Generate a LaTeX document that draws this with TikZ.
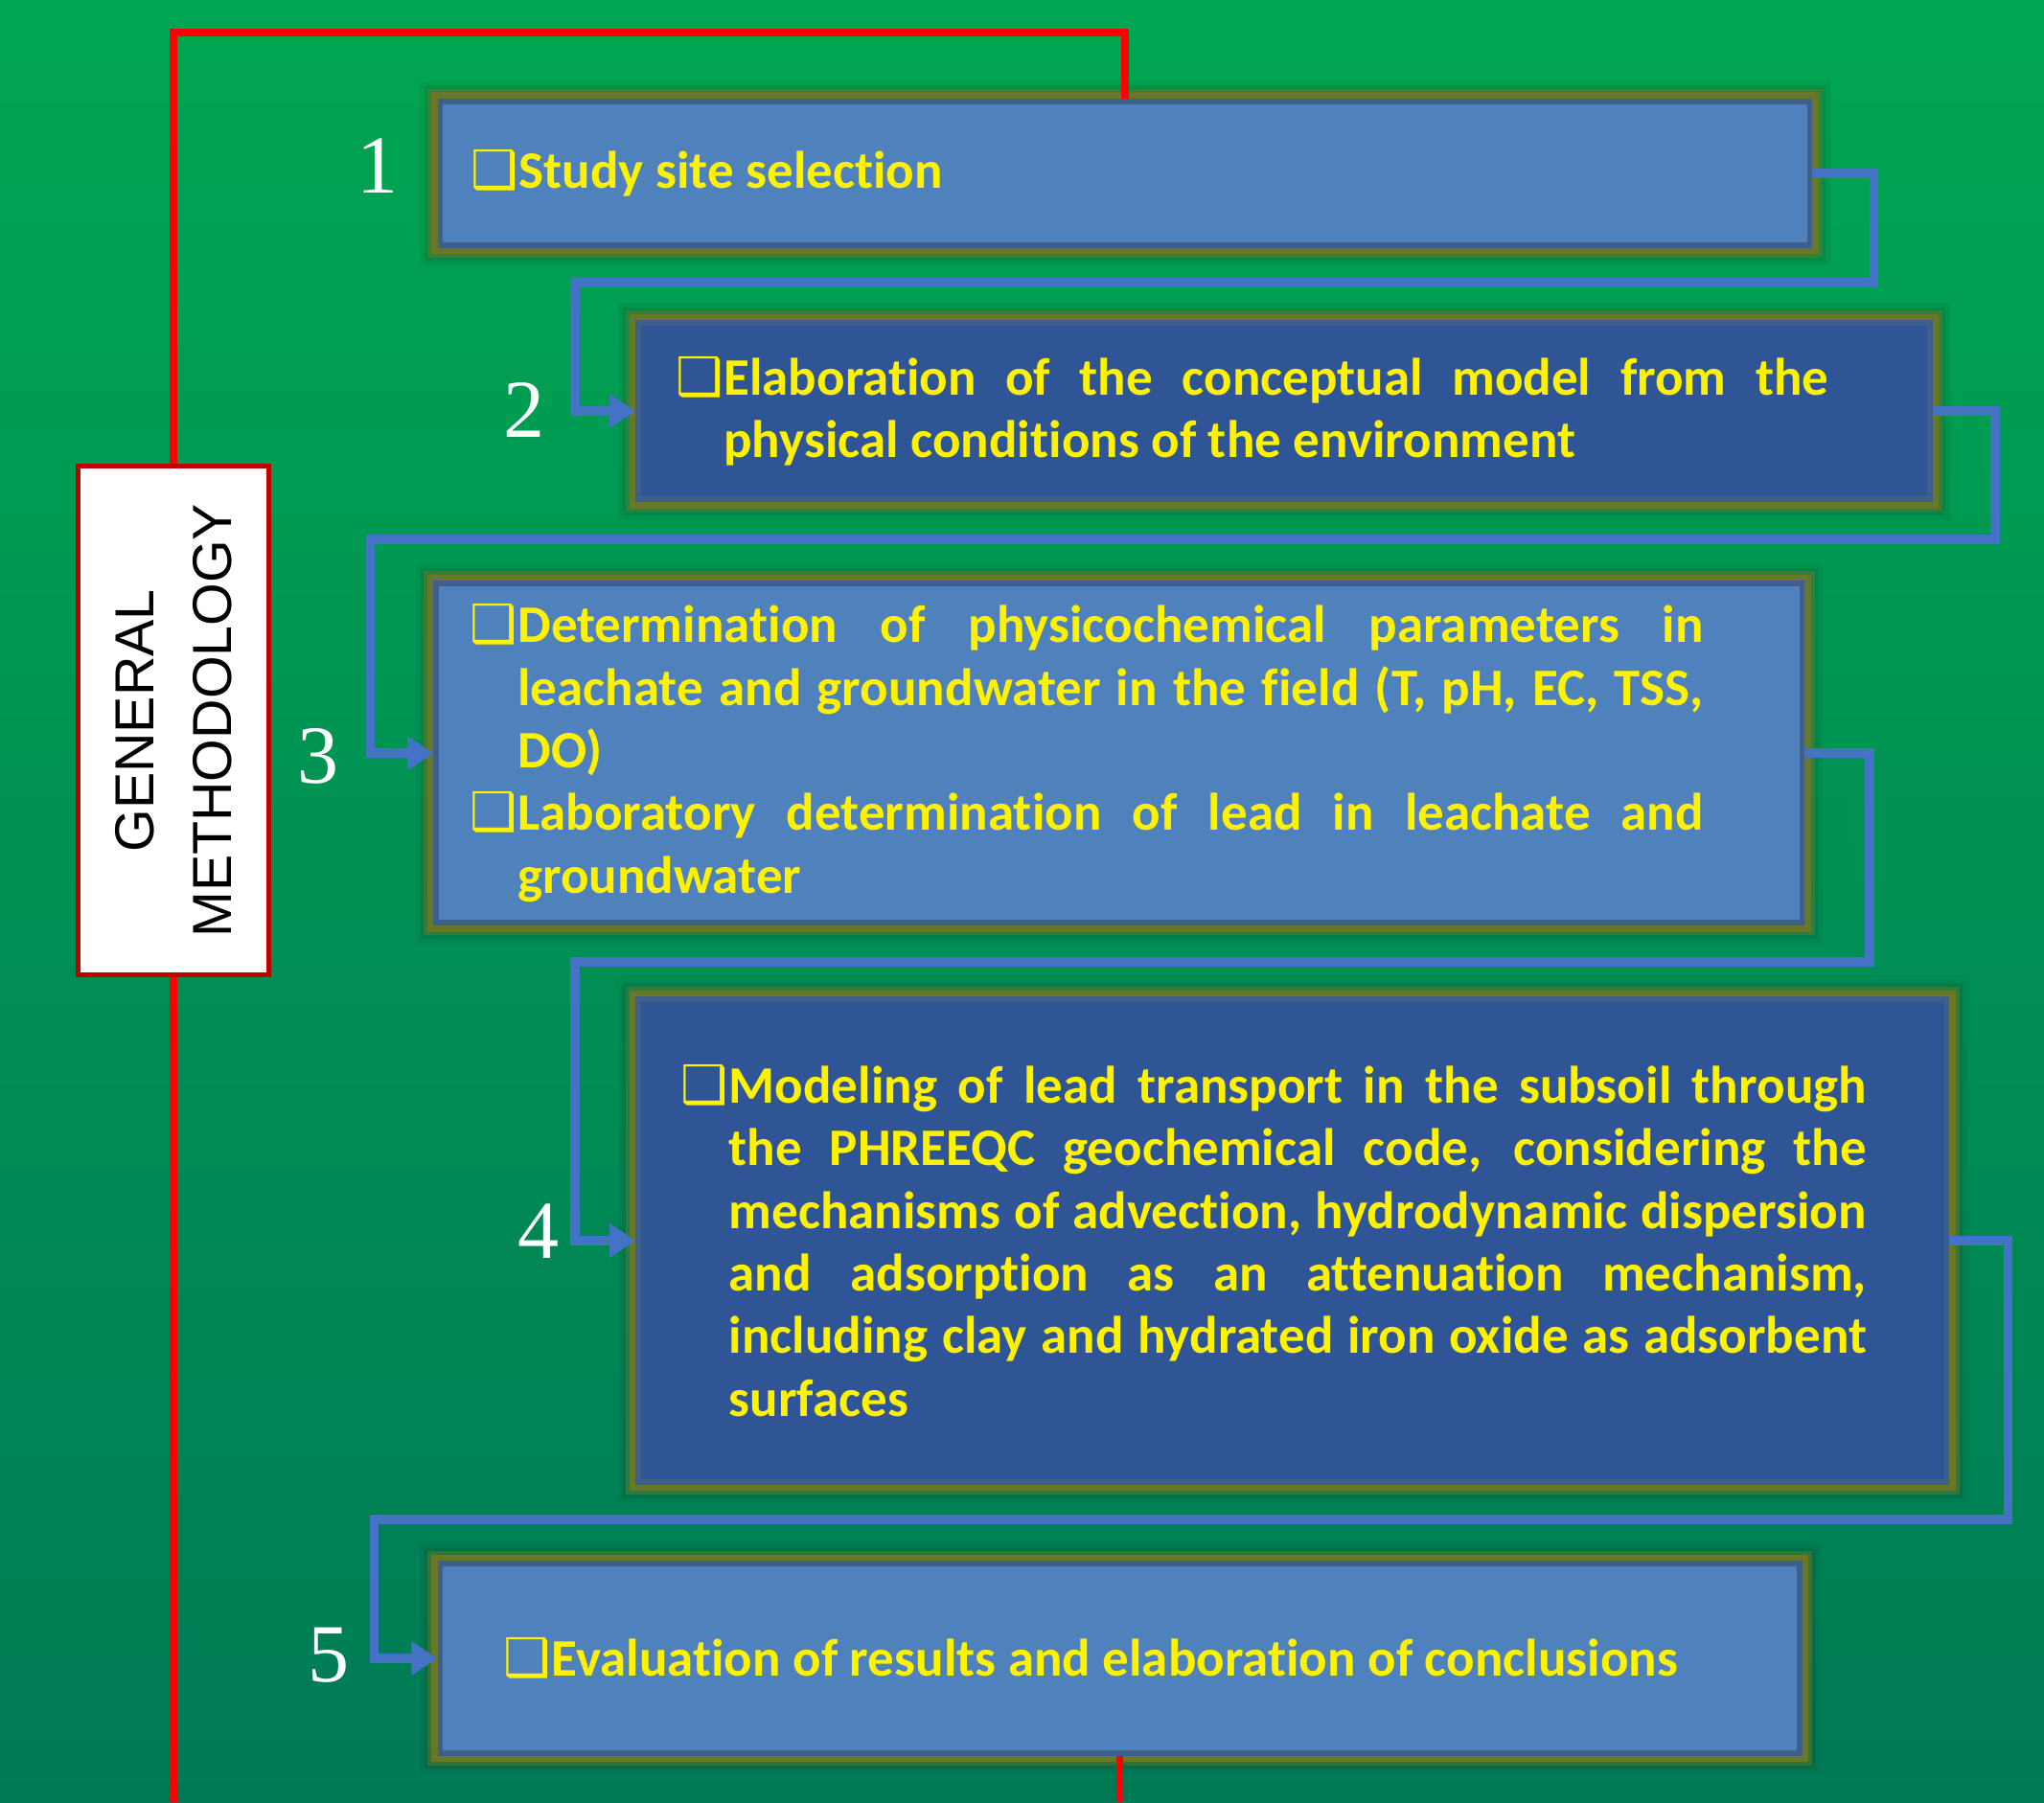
\documentclass[tikz,border=0pt]{standalone}
\usepackage{fontspec}
\setmainfont{Carlito}[Ligatures=NoCommon, Contextuals=NoAlternate]
\newfontfamily\numfont{Liberation Serif}
\newfontfamily\gmfont{Liberation Sans}
\newfontfamily\symfont{DejaVu Sans}
\usetikzlibrary{arrows.meta}

\definecolor{bgtop}{RGB}{0,166,81}
\definecolor{bgbot}{RGB}{0,122,86}
\definecolor{lightbox}{RGB}{79,129,189}
\definecolor{darkbox}{RGB}{47,85,151}
\definecolor{boxline}{RGB}{62,95,140}
\definecolor{glowc}{RGB}{104,120,40}
\definecolor{connc}{RGB}{68,114,196}
\definecolor{gmred}{RGB}{192,0,0}

\newlength{\chkw}\setlength{\chkw}{10.5pt}
\newcommand{\chk}{\makebox[\chkw][l]{\symfont ❑}}

\tikzset{
  glowbox/.style={draw=boxline, line width=1.2pt,
    preaction={draw=black, opacity=0.05, line width=9pt},
    preaction={draw=black, opacity=0.07, line width=7pt},
    preaction={draw=glowc, opacity=0.5, line width=5.5pt},
    preaction={draw=glowc, line width=4pt}},
  lightstep/.style={glowbox, fill=lightbox},
  darkstep/.style={glowbox, fill=darkbox},
  steptext/.style={inner sep=0pt, anchor=west, text=yellow, align=justify,
    font=\bfseries\fontsize{11.5}{13.66}\selectfont},
  numlbl/.style={text=white, font=\numfont\fontsize{18}{20}\selectfont},
  conn/.style={draw=connc, line width=2pt, -{Triangle[length=0.2cm,width=0.25cm]}},
  redline/.style={draw=red, line width=1.5pt}
}

\begin{document}
\begin{tikzpicture}[x=0.01cm,y=-0.01cm]
\shade[top color=bgtop, bottom color=bgbot] (0,0) rectangle (1568,1383);
\useasboundingbox (0,0) rectangle (1568,1383);

% step boxes
\node[lightstep, minimum width=10.50cm, minimum height=1.10cm] (b1) at (863,133) {};
\node[darkstep, minimum width=9.90cm, minimum height=1.35cm] (b2) at (985,315.5) {};
\node[lightstep, minimum width=10.47cm, minimum height=2.60cm] (b3) at (858.5,578) {};
\node[darkstep, minimum width=10.03cm, minimum height=3.70cm] (b4) at (991.5,952) {};
\node[lightstep, minimum width=10.42cm, minimum height=1.45cm] (b5) at (859,1272.5) {};

% red frame
\coordinate (rtl) at (133,25);
\coordinate (rbl) at (133,1383);
\coordinate (rbot) at (859,1383);
\draw[redline] (b1.north) |- (rtl) -- (rbl);
\draw[redline] (b5.south) -- (rbot);

\node[draw=gmred, line width=1pt, fill=white, rotate=90, minimum width=3.90cm, minimum height=1.46cm,
  align=center, font=\gmfont\fontsize{12}{17}\selectfont] (gm) at (133,553) {GENERAL\\METHODOLOGY};

% connectors
\draw[conn] (b1.east) -- ++(47,0) |- (441,217) |- (b2.west);
\draw[conn] (b2.east) -- ++(48,0) |- (284,414) |- (b3.west);
\draw[conn] (b3.east) -- ++(50,0) |- (441,738) |- (b4.west);
\draw[conn] (b4.east) -- ++(45,0) |- (287,1166) |- (b5.west);

% texts
\node[steptext] (t1) at ([xshift=0.25cm]b1.west) {\chk Study site selection};
\node[steptext, text width=8.84cm] (t2) at ([xshift=0.30cm]b2.west) {\hangindent=\chkw
  \chk Elaboration of the conceptual model from the\linebreak physical conditions of the environment\par};
\node[steptext, text width=9.46cm] (t3) at ([xshift=0.27cm]b3.west) {\hangindent=\chkw
  \chk Determination of physicochemical parameters in\linebreak leachate and groundwater in the field (T, pH, EC, TSS,\linebreak DO)\par
  \hangindent=\chkw
  \chk Laboratory determination of lead in leachate and\linebreak groundwater\par};
\node[steptext, text width=9.09cm] (t4) at ([xshift=0.34cm]b4.west) {\hangindent=\chkw
  \chk Modeling of lead transport in the subsoil through\linebreak the PHREEQC geochemical code, considering the\linebreak mechanisms of advection, hydrodynamic dispersion\linebreak and adsorption as an attenuation mechanism,\linebreak including clay and hydrated iron oxide as adsorbent\linebreak surfaces\par};
\node[steptext] (t5) at ([xshift=0.50cm]b5.west) {\chk Evaluation of results and elaboration of conclusions};

\node[numlbl] (n1) at (290,127) {1};
\node[numlbl] (n2) at (402,315) {2};
\node[numlbl] (n3) at (244,580) {3};
\node[numlbl] (n4) at (413,945) {4};
\node[numlbl] (n5) at (252,1270) {5};
\end{tikzpicture}
\end{document}
